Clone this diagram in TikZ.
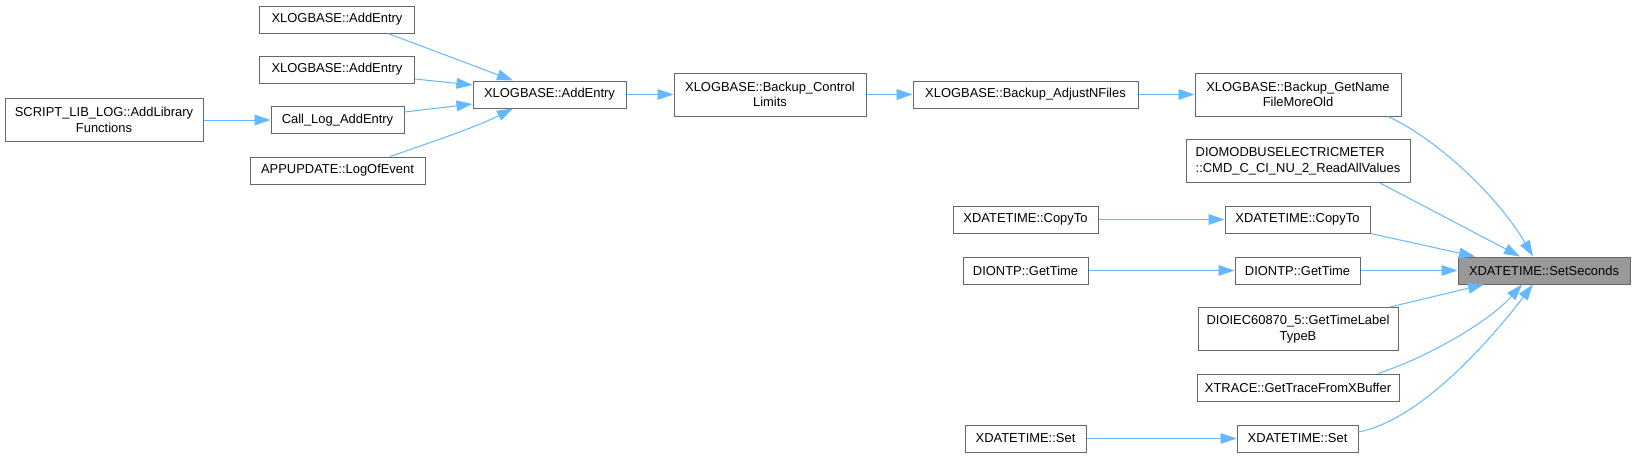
\documentclass[tikz,border=0pt]{standalone}
\usepackage{fontspec}
\setmainfont{Liberation Sans}
\usetikzlibrary{arrows.meta,calc}
\definecolor{edgeblue}{HTML}{63B8FF}
\definecolor{boxborder}{HTML}{666666}
\definecolor{hilite}{HTML}{999999}
\begin{document}
\begin{tikzpicture}[x=0.75pt,y=-0.75pt,
  fn/.style={draw=boxborder,fill=white,line width=0.75pt,inner sep=0pt,
    minimum height=27*0.75pt,font=\fontsize{9.7}{11.7}\selectfont,align=center},
  bw/.style={minimum width=#1*0.75pt},
  two/.style={minimum height=43*0.75pt},
  cur/.style={fill=hilite},
  call/.style={draw=edgeblue,line width=0.75pt,-{Triangle[length=12pt,width=8pt]}}]
\fill[white] (0,0) rectangle (1635,457);
\useasboundingbox (0,0) rectangle (1635,457);
% nodes
\node[fn,bw=155] (ae1) at (337,19.5) {XLOGBASE::AddEntry};
\node[fn,bw=155] (ae2) at (337,69.5) {XLOGBASE::AddEntry};
\node[fn,bw=153] (aem) at (549.5,94.5) {XLOGBASE::AddEntry};
\node[fn,bw=198,two] (script) at (104,120) {SCRIPT\_LIB\_LOG::AddLibrary\\Functions};
\node[fn,bw=133] (calllog) at (337.5,120) {Call\_Log\_AddEntry};
\node[fn,bw=175] (app) at (337.5,170.5) {APPUPDATE::LogOfEvent};
\node[fn,bw=192,two] (bcl) at (770,94.5) {XLOGBASE::Backup\_Control\\Limits};
\node[fn,bw=225] (badj) at (1025.5,94.5) {XLOGBASE::Backup\_AdjustNFiles};
\node[fn,bw=206,two] (bgn) at (1298,94.5) {XLOGBASE::Backup\_GetName\\FileMoreOld};
\node[fn,bw=224,two,align=left] (dmb) at (1298,161) {DIOMODBUSELECTRICMETER\\::CMD\_C\_CI\_NU\_2\_ReadAllValues};
\node[fn,bw=145] (cpl) at (1025.5,219.5) {XDATETIME::CopyTo};
\node[fn,bw=145] (cpr) at (1297.5,219.5) {XDATETIME::CopyTo};
\node[fn,bw=125] (ntpl) at (1025.5,270.5) {DIONTP::GetTime};
\node[fn,bw=125] (ntpr) at (1297.5,270.5) {DIONTP::GetTime};
\node[fn,bw=172,cur] (ss) at (1544,270.5) {XDATETIME::SetSeconds};
\node[fn,bw=200,two] (iec) at (1298,329) {DIOIEC60870\_5::GetTimeLabel\\TypeB};
\node[fn,bw=202] (xtr) at (1298,387.5) {XTRACE::GetTraceFromXBuffer};
\node[fn,bw=121] (setl) at (1025.5,438.5) {XDATETIME::Set};
\node[fn,bw=121] (setr) at (1297.5,438.5) {XDATETIME::Set};
% edges
\draw[call] ($(ae1.south)+(51,0)$) -- ($(aem.north)+(-36.5,0)$);
\draw[call] ($(ae2.east)+(0,9.5)$) -- ($(aem.west)+(0,-9.5)$);
\draw[call] ($(calllog.east)+(0,-8)$) -- ($(aem.west)+(0,9.5)$);
\draw[call] ($(app.north)+(52.5,0)$) .. controls +(40,-14) and +(-40,20) .. ($(aem.south)+(-36.5,0)$);
\draw[call] (script.east) -- (calllog.west);
\draw[call] (aem.east) -- (bcl.west);
\draw[call] (bcl.east) -- (badj.west);
\draw[call] (badj.east) -- (bgn.west);
\draw[call] ($(bgn.south)+(90,0)$) .. controls +(52,24) and +(-33,-57) .. ($(ss.north)+(-11,0)$);
\draw[call] ($(dmb.south)+(82,0)$) -- ($(ss.north)+(-24,0)$);
\draw[call] (cpr.south east) -- ($(ss.north)+(-69,0)$);
\draw[call] (ntpr.east) -- (ss.west);
\draw[call] ($(iec.north)+(92,0)$) -- ($(ss.south)+(-60,0)$);
\draw[call] ($(xtr.north)+(80,0)$) .. controls +(52,-17) and +(-32,36) .. ($(ss.south)+(-22,0)$);
\draw[call] ($(setr.east)+(0,-6.5)$) .. controls +(62,-12) and +(-43,56) .. ($(ss.south)+(-11,0)$);
\draw[call] (cpl.east) -- (cpr.west);
\draw[call] (ntpl.east) -- (ntpr.west);
\draw[call] (setl.east) -- (setr.west);
\end{tikzpicture}
\end{document}
